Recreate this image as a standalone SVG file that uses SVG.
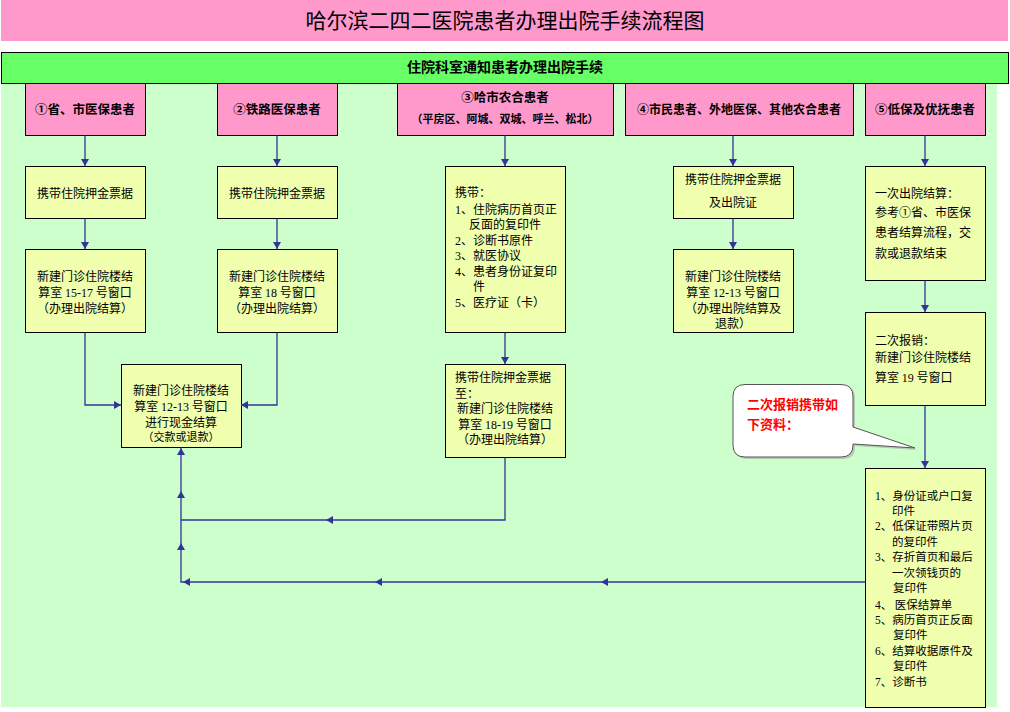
<svg xmlns="http://www.w3.org/2000/svg" xmlns:xlink="http://www.w3.org/1999/xlink" width="1010" height="712" viewBox="0 0 1010 712">
<style>
.t{font-family:"Noto Sans CJK SC","Noto Sans",sans-serif;font-size:12px;fill:#000}
.n{font-family:"Liberation Serif",serif}
.h{font-weight:bold;font-size:12.5px}
.s{font-size:11.5px}
.c{text-anchor:middle}
.bx{stroke:#000;stroke-width:1}
.y{fill:#EFFFAD}
.p{fill:#FF99CC}
.ln{stroke:#333399;stroke-width:1.3;fill:none}
.ah{fill:#333399}
</style>
<defs>
<path id="ah" class="ah" d="M0,0 L-7,-4 L-7,4 Z"/>
</defs>
<rect x="0" y="0" width="1010" height="712" fill="#fff"/>
<g id="title">
<rect x="1" y="0" width="1007" height="41" fill="#FF99CC"/>
<text class="t c" x="505" y="28" style="font-size:21px">哈尔滨二四二医院患者办理出院手续流程图</text>
</g>
<rect x="1" y="83" width="996" height="624" fill="#CCFFCC"/>
<g id="banner">
<rect class="bx" x="1.5" y="52.5" width="1007" height="31" fill="#66FF66"/>
<text class="t c" x="505" y="72" style="font-weight:bold;font-size:14px">住院科室通知患者办理出院手续</text>
</g>
<g id="h1"><rect class="bx p" x="25.5" y="83.5" width="120" height="52"/><text class="t h c" x="85" y="114">①省、市医保患者</text></g>
<g id="h2"><rect class="bx p" x="217.5" y="83.5" width="120" height="52"/><text class="t h c" x="277" y="114">②铁路医保患者</text></g>
<g id="h3"><rect class="bx p" x="397.5" y="83.5" width="216" height="52"/><text class="t h c" x="505" y="102">③哈市农合患者</text><text class="t h c" x="505" y="123" style="font-size:11px">（平房区、阿城、双城、呼兰、松北）</text></g>
<g id="h4"><rect class="bx p" x="625.5" y="83.5" width="228" height="52"/><text class="t h c" x="739" y="114" style="font-size:12px">④市民患者、外地医保、其他农合患者</text></g>
<g id="h5"><rect class="bx p" x="865.5" y="83.5" width="120" height="52"/><text class="t h c" x="925" y="114">⑤低保及优抚患者</text></g>

<g id="c1b1"><rect class="bx y" x="25.5" y="166.5" width="120" height="52"/><text class="t c" x="85" y="197.5">携带住院押金票据</text></g>
<g id="c1b2"><rect class="bx y" x="25.5" y="249.5" width="120" height="83"/>
<text class="t c" x="85" y="281">新建门诊住院楼结</text>
<text class="t c" x="85" y="297">算室 <tspan class="n">15-17</tspan> 号窗口</text>
<text class="t c" x="85" y="312.5">（办理出院结算）</text></g>
<g id="c2b1"><rect class="bx y" x="217.5" y="166.5" width="120" height="52"/><text class="t c" x="277" y="197.5">携带住院押金票据</text></g>
<g id="c2b2"><rect class="bx y" x="217.5" y="249.5" width="120" height="83"/>
<text class="t c" x="277" y="281">新建门诊住院楼结</text>
<text class="t c" x="277" y="297">算室 <tspan class="n">18</tspan> 号窗口</text>
<text class="t c" x="277" y="312.5">（办理出院结算）</text></g>
<g id="merge"><rect class="bx y" x="121.5" y="364.5" width="120" height="83"/>
<text class="t c" x="181" y="395">新建门诊住院楼结</text>
<text class="t c" x="181" y="410.5">算室 <tspan class="n">12-13</tspan> 号窗口</text>
<text class="t c" x="181" y="426.5">进行现金结算</text>
<text class="t c" x="181" y="441" style="font-size:11px">（交款或退款）</text></g>

<g id="c3b1"><rect class="bx y" x="445.5" y="166.5" width="120" height="166"/>
<text class="t" x="455" y="197">携带：</text>
<text class="t" x="455" y="213.5"><tspan class="n">1</tspan>、住院病历首页正</text>
<text class="t" x="469" y="229">反面的复印件</text>
<text class="t" x="455" y="244.5"><tspan class="n">2</tspan>、诊断书原件</text>
<text class="t" x="455" y="260"><tspan class="n">3</tspan>、就医协议</text>
<text class="t" x="455" y="275.5"><tspan class="n">4</tspan>、患者身份证复印</text>
<text class="t" x="473" y="291">件</text>
<text class="t" x="455" y="306.5"><tspan class="n">5</tspan>、医疗证（卡）</text></g>
<g id="c3b2"><rect class="bx y" x="445.5" y="364.5" width="120" height="93"/>
<text class="t" x="455" y="381.5">携带住院押金票据</text>
<text class="t" x="455" y="397.5">至：</text>
<text class="t c" x="505" y="412.5">新建门诊住院楼结</text>
<text class="t c" x="505" y="428.5">算室 <tspan class="n">18-19</tspan> 号窗口</text>
<text class="t c" x="505" y="443.5">（办理出院结算）</text></g>

<g id="c4b1"><rect class="bx y" x="673.5" y="166.5" width="120" height="52"/>
<text class="t c" x="733" y="183.5">携带住院押金票据</text>
<text class="t c" x="733" y="207">及出院证</text></g>
<g id="c4b2"><rect class="bx y" x="673.5" y="249.5" width="120" height="83"/>
<text class="t c" x="733" y="281">新建门诊住院楼结</text>
<text class="t c" x="733" y="296.5">算室 <tspan class="n">12-13</tspan> 号窗口</text>
<text class="t c" x="733" y="312.5">（办理出院结算及</text>
<text class="t c" x="733" y="327.5">退款）</text></g>

<g id="c5b1"><rect class="bx y" x="865.5" y="166.5" width="120" height="114"/>
<text class="t" x="875" y="198">一次出院结算：</text>
<text class="t" x="875" y="216.5">参考①省、市医保</text>
<text class="t" x="875" y="236.5">患者结算流程，交</text>
<text class="t" x="875" y="257.5">款或退款结束</text></g>
<g id="c5b2"><rect class="bx y" x="865.5" y="312.5" width="120" height="93"/>
<text class="t" x="875" y="344.5">二次报销：</text>
<text class="t" x="875" y="362">新建门诊住院楼结</text>
<text class="t" x="875" y="382">算室 <tspan class="n">19</tspan> 号窗口</text></g>
<g id="c5b3"><rect class="bx y" x="865.5" y="468.5" width="120" height="239"/>
<text class="t s" x="875" y="499.5"><tspan class="n">1</tspan>、身份证或户口复</text>
<text class="t s" x="892" y="514.5">印件</text>
<text class="t s" x="875" y="530"><tspan class="n">2</tspan>、低保证带照片页</text>
<text class="t s" x="892" y="545.5">的复印件</text>
<text class="t s" x="875" y="561"><tspan class="n">3</tspan>、存折首页和最后</text>
<text class="t s" x="892" y="576.5">一次领钱页的</text>
<text class="t s" x="893" y="592">复印件</text>
<text class="t s" x="875" y="608.5"><tspan class="n">4</tspan>、 医保结算单</text>
<text class="t s" x="875" y="623.5"><tspan class="n">5</tspan>、病历首页正反面</text>
<text class="t s" x="893" y="639">复印件</text>
<text class="t s" x="875" y="654.5"><tspan class="n">6</tspan>、结算收据原件及</text>
<text class="t s" x="893" y="670">复印件</text>
<text class="t s" x="875" y="685.5"><tspan class="n">7</tspan>、诊断书</text></g>

<g id="callout">
<path d="M747,386 H843 Q855,386 855,398 V429 L917,450 L855,446 V447 Q855,459 843,459 H747 Q735,459 735,447 V398 Q735,386 747,386 Z" fill="#999" opacity="0.5"/>
<path d="M745,384.5 H841 Q853,384.5 853,396.5 V427 L915,448 L853,444 V445 Q853,457 841,457 H745 Q733,457 733,445 V396.5 Q733,384.5 745,384.5 Z" fill="#fff" stroke="#555" stroke-width="1"/>
<text class="t" x="747" y="408.5" style="font-weight:bold;font-size:13px;fill:#FF0000">二次报销携带如</text>
<text class="t" x="747" y="429" style="font-weight:bold;font-size:13px;fill:#FF0000">下资料：</text>
</g>

<g id="connectors">
<path class="ln" d="M85,135.5 V166 M277,135.5 V166 M505,135.5 V166 M733,135.5 V166 M925,135.5 V166"/>
<path class="ln" d="M85,218.5 V249 M277,218.5 V249 M733,218.5 V249 M505,332.5 V364 M925,280.5 V312 M925,405.5 V468"/>
<path class="ln" d="M85,332.5 V405 H121"/>
<path class="ln" d="M277,332.5 V405 H241"/>
<path class="ln" d="M505,457.5 V520 H181"/>
<path class="ln" d="M865,582 H181 V447.5"/>
<use xlink:href="#ah" transform="translate(85,166) rotate(90)"/>
<use xlink:href="#ah" transform="translate(277,166) rotate(90)"/>
<use xlink:href="#ah" transform="translate(505,166) rotate(90)"/>
<use xlink:href="#ah" transform="translate(733,166) rotate(90)"/>
<use xlink:href="#ah" transform="translate(925,166) rotate(90)"/>
<use xlink:href="#ah" transform="translate(85,249) rotate(90)"/>
<use xlink:href="#ah" transform="translate(277,249) rotate(90)"/>
<use xlink:href="#ah" transform="translate(733,249) rotate(90)"/>
<use xlink:href="#ah" transform="translate(505,364) rotate(90)"/>
<use xlink:href="#ah" transform="translate(925,312) rotate(90)"/>
<use xlink:href="#ah" transform="translate(925,468) rotate(90)"/>
<use xlink:href="#ah" transform="translate(121,405)"/>
<use xlink:href="#ah" transform="translate(241,405) rotate(180)"/>
<use xlink:href="#ah" transform="translate(326,520) rotate(180)"/>
<use xlink:href="#ah" transform="translate(601,582) rotate(180)"/>
<use xlink:href="#ah" transform="translate(375,582) rotate(180)"/>
<use xlink:href="#ah" transform="translate(183,582) rotate(180)"/>
<use xlink:href="#ah" transform="translate(181,543) rotate(-90)"/>
<use xlink:href="#ah" transform="translate(181,491) rotate(-90)"/>
<use xlink:href="#ah" transform="translate(181,448) rotate(-90)"/>
</g>
</svg>
